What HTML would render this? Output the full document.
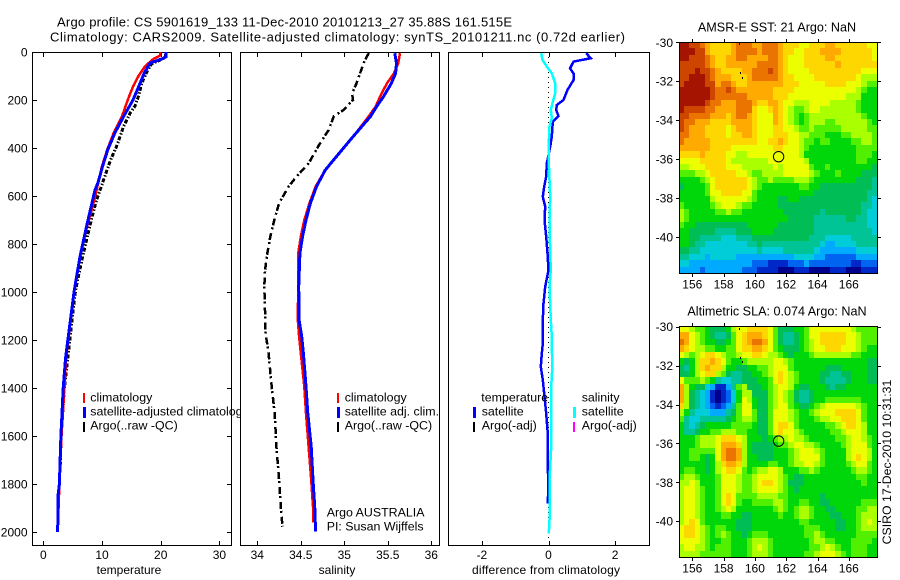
<!DOCTYPE html>
<html lang="en">
<head>
<meta charset="utf-8">
<title>Argo profile 5901619_133</title>
<style>
html,body{margin:0;padding:0;background:#fff;}
svg{display:block;}
text{font-family:"Liberation Sans",sans-serif;font-size:12px;fill:#000;}
.leg text{font-size:12.4px;}
.box{fill:#fff;stroke:#000;stroke-width:1;shape-rendering:crispEdges;}
.frame{fill:none;stroke:#000;stroke-width:1;shape-rendering:crispEdges;}
.sw{shape-rendering:crispEdges;}
</style>
</head>
<body>
<svg id="chart" xmlns="http://www.w3.org/2000/svg" width="900" height="580" viewBox="0 0 900 580">
  <rect x="0" y="0" width="900" height="580" fill="#fff"/>
  <text x="57" y="26.5" style="font-size:13px" textLength="455" lengthAdjust="spacing">Argo profile: CS 5901619_133 11-Dec-2010 20101213_27 35.88S 161.515E</text>
  <text x="50" y="41.5" style="font-size:13px" textLength="575" lengthAdjust="spacing">Climatology: CARS2009. Satellite-adjusted climatology: synTS_20101211.nc (0.72d earlier)</text>

  <g id="panel-t"></g>
  <g id="panel-s"></g>
  <g id="panel-d"></g>
  <g id="map-a"></g>
  <g id="map-b"></g>

  <g class="leg">
    <rect class="sw" x="83" y="393" width="2" height="10" fill="#f00"/>
    <text x="90.3" y="401.7">climatology</text>
    <rect class="sw" x="83" y="407" width="3" height="11" fill="#00f"/>
    <text x="90.3" y="415.7">satellite-adjusted climatology</text>
    <rect class="sw" x="83" y="422" width="2" height="10" fill="#000"/>
    <text x="90.3" y="429.3">Argo(..raw -QC)</text>
  </g>
  <rect x="240" y="404" width="24" height="16" fill="#fff"/>
  <line x1="240.5" y1="400" x2="240.5" y2="424" stroke="#000" shape-rendering="crispEdges"/>

  <g class="leg">
    <rect class="sw" x="337" y="393" width="2" height="10" fill="#f00"/>
    <text x="344.7" y="401.7">climatology</text>
    <rect class="sw" x="337" y="407" width="3" height="11" fill="#00f"/>
    <text x="344.7" y="415.7">satellite adj. clim.</text>
    <rect class="sw" x="337" y="422" width="2" height="10" fill="#000"/>
    <text x="344.7" y="429.3">Argo(..raw -QC)</text>
    <text x="326.7" y="516.7">Argo AUSTRALIA</text>
    <text x="326.7" y="530.7">PI: Susan Wijffels</text>
  </g>

  <g class="leg">
    <text x="481.3" y="401.7">temperature</text>
    <rect class="sw" x="473" y="407" width="3" height="11" fill="#00f"/>
    <text x="481.7" y="415.7">satellite</text>
    <rect class="sw" x="473" y="422" width="2" height="10" fill="#000"/>
    <text x="481.7" y="429.3">Argo(-adj)</text>
    <text x="581.7" y="401.7">salinity</text>
    <rect class="sw" x="573" y="407" width="3" height="11" fill="#0ff"/>
    <text x="581.7" y="415.7">satellite</text>
    <rect class="sw" x="573" y="422" width="2" height="10" fill="#f0f"/>
    <text x="581.7" y="429.3">Argo(-adj)</text>
  </g>

  <text x="129" y="574" text-anchor="middle">temperature</text>
  <text x="337" y="574" text-anchor="middle">salinity</text>
  <text x="546" y="574" text-anchor="middle" textLength="148" lengthAdjust="spacing">difference from climatology</text>
  <text x="777" y="31.5" text-anchor="middle" style="font-size:12.6px">AMSR-E SST: 21 Argo: NaN</text>
  <text x="777" y="315.5" text-anchor="middle" style="font-size:12.6px">Altimetric SLA: 0.074 Argo: NaN</text>
  <text transform="translate(891,462) rotate(-90)" text-anchor="middle" style="font-size:12.3px">CSIRO 17-Dec-2010 10:31:31</text>
</svg>

<script>
/* ---------- profile data ---------- */
const depthTicks = [0, 200, 400, 600, 800, 1000, 1200, 1400, 1600, 1800, 2000];
const tempTicks = [0, 10, 20, 30];
const salTicks = [34, 34.5, 35, 35.5, 36];
const diffTicks = [-2, 0, 2];
const lonTicks = [156, 158, 160, 162, 164, 166];
const latTicks = [-30, -32, -34, -36, -38, -40];

const tempArgoDepth = [5, 25, 50, 90, 129, 185, 226, 254, 309, 392, 448, 503, 559, 615, 692, 853, 992, 1076, 1256, 1400, 1600, 1750];
const tempArgoValue = [20.9, 20.7, 18.4, 17.5, 16.8, 16.2, 15.6, 14.8, 13.7, 12.5, 11.5, 10.7, 9.9, 9.1, 8.24, 6.7, 5.5, 5.1, 4.26, 3.6, 3.05, 2.85];
const tempClimDepth = [0, 15, 30, 60, 101, 143, 199, 268, 337, 406, 476, 615, 713, 853, 992, 1131, 1270, 1400, 1600, 1800, 1960];
const tempClimValue = [19.9, 19.9, 18.7, 17.3, 16.2, 15.3, 14.4, 13.4, 12.0, 10.9, 10.0, 8.7, 7.6, 6.2, 5.3, 4.6, 3.9, 3.6, 3.1, 2.75, 2.5];
const tempSatDepth = [0, 20, 27, 46, 87, 129, 199, 268, 337, 406, 476, 546, 575, 713, 853, 992, 1131, 1270, 1394, 1600, 1800, 1850, 2000];
const tempSatValue = [20.9, 20.9, 20.4, 18.2, 17.2, 16.5, 15.3, 13.7, 12.2, 11.0, 10.1, 9.3, 8.8, 7.5, 6.25, 5.28, 4.55, 3.82, 3.4, 3.0, 2.75, 2.5, 2.45];

const salArgoDepth = [5, 40, 89, 131, 172, 200, 242, 267, 325, 387, 464, 519, 561, 630, 700, 769, 839, 908, 978, 1089, 1158, 1256, 1394, 1506, 1644, 1783, 1894, 1978];
const salArgoValue = [35.28, 35.23, 35.18, 35.14, 35.09, 35.10, 34.99, 34.88, 34.82, 34.71, 34.59, 34.45, 34.36, 34.25, 34.195, 34.15, 34.115, 34.09, 34.08, 34.09, 34.09, 34.13, 34.165, 34.20, 34.22, 34.25, 34.27, 34.29];
const salClimDepth = [5, 47, 89, 131, 186, 228, 283, 353, 422, 492, 561, 630, 700, 769, 839, 978, 1117, 1186, 1256, 1394, 1506, 1644, 1783, 1894, 1960];
const salClimValue = [35.64, 35.62, 35.57, 35.49, 35.41, 35.36, 35.25, 35.10, 34.94, 34.78, 34.67, 34.60, 34.54, 34.50, 34.47, 34.47, 34.465, 34.48, 34.50, 34.54, 34.56, 34.59, 34.62, 34.64, 34.645];
const salSatDepth = [5, 47, 89, 131, 186, 228, 269, 353, 422, 492, 561, 630, 700, 769, 839, 978, 1117, 1186, 1256, 1394, 1506, 1644, 1783, 1894, 1998];
const salSatValue = [35.58, 35.60, 35.59, 35.54, 35.45, 35.37, 35.30, 35.10, 34.94, 34.78, 34.68, 34.61, 34.56, 34.52, 34.49, 34.476, 34.48, 34.51, 34.53, 34.56, 34.58, 34.62, 34.64, 34.66, 34.67];

const diffTempDepth = [5, 26, 40, 68, 89, 117, 158, 200, 221, 242, 267, 290, 353, 394, 464, 519, 561, 603, 644, 700, 769, 839, 908, 978, 1047, 1117, 1214, 1256, 1311, 1367, 1436, 1506, 1575, 1645, 1728, 1783, 1881];
const diffTempValue = [1.13, 1.27, 0.75, 0.65, 0.75, 0.75, 0.57, 0.45, 0.25, 0.23, 0.3, 0.13, 0.1, 0.05, -0.05, -0.07, -0.13, -0.17, -0.1, -0.12, -0.07, -0.03, 0, -0.1, -0.15, -0.17, -0.17, -0.2, -0.23, -0.17, -0.12, -0.07, -0.03, -0.03, -0.03, 0, -0.02];
const diffSalDepth = [5, 33, 61, 89, 131, 172, 207, 242, 276, 311, 380, 464, 533, 603, 700, 839, 908, 978, 1117, 1186, 1325, 1394, 1506, 1645, 1728, 1783, 1950, 2006];
const diffSalValue = [-0.22, -0.18, -0.05, 0.1, 0.2, 0.2, 0.13, 0.07, 0.1, 0.03, 0.01, 0.01, 0.03, 0.05, 0.03, 0.05, 0.07, 0.03, 0.07, 0.1, 0.11, 0.08, 0.08, 0.08, 0.05, 0.03, 0.03, 0.01];
const zeroLineDepth = [0, 2030];
const zeroLineValue = [0, 0];

/* ---------- map data (colour level per 1/3-degree cell, north to south) ---------- */
const sstLevels = [
[15,15,14,14,13,12,11,11,11,11,12,13,13,13,12,12,13,13,13,12,11,11,11,10,10,11,11,11,12,12,11,11,11,11,11,11,10,10],
[15,15,15,14,14,12,11,11,11,11,12,13,13,13,13,12,13,13,13,12,11,11,10,10,11,11,11,12,12,12,12,11,11,11,11,11,11,10],
[15,15,14,14,14,13,12,11,11,12,12,13,13,12,12,12,12,13,13,12,11,10,10,10,11,11,11,11,12,12,11,11,11,11,11,11,11,10],
[14,14,14,14,14,13,12,11,11,12,12,12,12,12,12,13,13,13,13,12,11,10,10,10,11,11,11,11,11,11,12,11,11,11,11,11,11,11],
[14,14,14,15,14,14,13,12,11,11,11,11,12,12,13,13,13,14,13,12,11,10,10,10,10,11,11,11,11,11,11,11,11,11,11,10,10,10],
[14,14,15,15,15,14,13,12,12,12,11,11,11,12,13,13,13,13,13,12,11,11,10,10,10,10,11,11,11,11,11,11,11,11,10,9,9,9],
[14,15,15,15,15,14,14,12,13,13,12,11,11,12,12,12,12,12,12,12,11,11,11,10,10,10,10,10,11,11,11,11,10,10,10,9,8,8],
[15,15,15,15,15,15,14,13,13,14,13,12,12,12,12,12,12,12,11,11,11,11,10,10,10,10,10,10,10,10,10,10,10,10,9,8,7,7],
[15,15,15,15,15,15,14,13,13,13,13,13,13,12,12,12,12,12,11,11,11,10,10,10,10,10,10,10,10,10,10,10,9,9,9,7,7,7],
[15,15,15,15,15,14,13,13,12,12,12,13,13,13,12,11,11,12,12,11,10,10,9,9,9,10,10,10,10,9,9,9,9,9,8,7,7,7],
[15,14,14,14,14,13,13,12,12,12,12,13,13,13,11,10,10,11,12,11,10,9,8,8,9,10,10,9,9,9,9,9,9,9,8,7,7,7],
[14,14,13,13,13,13,12,12,12,11,12,13,13,12,11,10,10,10,12,11,10,9,8,7,8,9,9,9,9,9,9,9,9,9,9,8,7,7],
[14,13,13,12,12,12,11,11,11,11,12,12,12,12,11,10,10,10,12,11,10,9,8,7,8,9,9,9,8,8,9,9,9,9,9,9,8,7],
[14,13,12,12,12,11,11,11,11,10,11,12,12,12,11,10,10,10,11,11,10,10,9,8,8,9,8,8,8,8,8,9,9,9,9,9,8,8],
[13,13,12,12,12,11,11,11,11,10,11,11,12,12,11,10,10,10,11,11,11,10,10,9,9,8,8,8,7,7,7,8,8,9,9,9,9,8],
[13,12,12,12,12,12,11,11,11,11,11,11,11,11,11,10,10,11,11,12,11,10,10,9,8,8,7,8,8,7,7,7,7,8,8,9,9,8],
[12,12,12,12,12,12,11,11,11,11,10,10,10,10,10,10,10,10,11,11,10,10,10,9,8,7,7,7,7,7,7,7,7,7,8,8,8,8],
[11,11,11,11,12,11,11,11,11,10,10,9,9,10,10,10,10,10,10,10,10,10,10,9,7,7,7,7,7,7,7,7,7,7,8,8,8,7],
[10,10,10,10,11,11,11,11,11,10,9,9,9,9,9,9,9,10,10,10,10,10,10,10,9,7,7,7,7,7,7,7,7,7,8,8,7,7],
[9,9,10,10,10,11,11,11,11,10,10,10,9,9,9,9,9,9,10,9,10,10,10,10,10,8,7,7,8,7,7,7,7,7,7,7,7,6],
[8,8,8,9,9,10,11,11,11,11,11,10,10,9,8,8,9,9,9,9,10,10,10,10,10,9,8,7,7,7,8,7,7,7,7,6,6,6],
[7,7,7,7,8,9,10,11,11,11,11,11,11,10,9,8,8,9,8,8,8,8,9,9,9,8,7,7,7,7,7,7,7,7,6,6,6,5],
[6,7,7,7,7,8,10,11,11,11,11,11,11,10,9,8,7,7,7,7,7,7,7,8,8,7,7,6,6,6,6,6,6,6,6,6,6,5],
[7,7,7,7,7,8,10,10,11,11,11,11,10,10,8,7,7,7,7,7,7,7,7,7,7,7,6,6,6,6,6,6,6,6,6,6,5,5],
[7,7,7,7,7,7,9,10,10,10,10,10,10,9,8,7,7,7,7,6,6,7,7,6,6,6,6,6,6,6,6,6,6,6,6,6,5,4],
[8,7,7,7,7,7,8,9,10,10,10,9,8,8,7,7,7,7,7,6,6,6,6,6,6,6,6,6,6,6,6,6,6,6,6,5,5,4],
[9,8,7,7,7,7,7,8,8,9,8,8,7,7,7,7,7,7,7,7,6,6,6,6,6,6,6,5,6,6,6,6,6,6,6,5,4,4],
[9,8,7,7,7,7,7,7,7,7,7,7,7,7,7,7,7,7,7,7,7,6,6,6,6,6,5,5,5,5,5,5,6,6,5,5,4,4],
[8,7,7,6,6,6,6,6,6,6,6,6,6,7,7,7,7,7,7,6,6,6,6,6,6,6,5,5,5,5,5,5,5,5,5,5,4,4],
[7,7,6,6,6,6,6,5,5,5,5,6,6,6,7,7,7,7,6,6,6,6,6,6,6,6,5,5,5,5,5,5,5,5,5,5,5,4],
[7,7,6,6,5,5,5,5,4,4,4,5,5,5,6,6,6,6,6,6,6,6,6,6,6,5,5,5,4,4,4,4,4,5,5,5,5,5],
[7,7,6,5,5,4,4,4,4,4,4,4,4,5,5,6,5,5,5,5,5,5,5,5,5,5,5,4,3,3,4,4,4,4,5,5,5,5],
[6,6,5,5,4,4,4,4,4,4,4,4,4,4,4,5,4,4,4,4,5,5,5,5,5,5,4,3,3,3,3,3,3,3,4,4,4,4],
[5,5,4,4,4,3,4,4,4,4,4,3,3,3,3,3,3,3,3,3,3,3,4,4,4,4,3,3,2,2,2,2,2,2,3,3,3,3],
[4,4,3,3,3,3,3,3,3,3,3,3,3,3,2,2,2,1,1,1,1,2,2,2,3,2,2,2,2,2,2,2,2,1,1,2,2,2],
[3,3,3,3,2,3,3,3,3,3,3,3,2,2,2,1,1,1,1,0,0,0,1,1,1,0,0,0,0,1,1,1,0,0,0,1,1,1]
];
const slaLevels = [
[10,10,9,8,8,7,6,6,6,7,9,10,10,11,11,11,11,10,8,6,6,6,7,7,8,10,10,10,10,10,10,10,10,9,8,8,8,8],
[12,12,10,9,8,7,6,5,5,6,8,10,11,12,12,12,11,10,8,6,5,5,6,7,8,10,10,11,11,11,11,11,10,10,9,8,8,8],
[13,12,10,9,8,7,7,6,6,7,8,10,11,12,13,13,12,10,8,6,5,5,6,7,8,9,10,11,11,11,11,11,10,10,9,8,8,8],
[12,11,10,9,9,8,8,7,7,8,8,10,11,11,12,12,11,10,8,7,6,6,6,7,8,9,10,10,11,11,11,10,10,10,9,8,7,7],
[10,9,8,9,10,11,11,10,9,8,8,9,10,10,11,11,10,9,9,8,7,6,7,7,7,8,9,9,9,9,9,9,9,8,8,7,7,7],
[7,6,7,9,11,11,12,11,10,8,7,7,8,9,9,9,9,9,10,10,9,8,7,7,7,7,7,7,7,7,7,7,7,7,7,7,6,6],
[6,5,7,9,11,12,11,11,9,7,7,6,6,7,7,8,8,9,10,10,10,8,7,7,7,7,7,7,6,6,6,7,7,7,7,7,6,6],
[6,6,7,9,10,11,11,9,8,6,5,5,6,6,7,7,8,9,10,11,10,9,8,7,7,7,7,6,6,5,5,6,6,7,7,7,6,6],
[10,8,8,8,9,8,7,5,4,4,5,5,6,6,6,7,7,8,10,11,10,9,8,7,7,7,7,6,5,5,5,5,6,7,7,7,6,6],
[12,9,7,6,6,4,3,1,1,3,5,8,9,6,6,6,7,8,9,10,10,9,7,6,6,7,7,7,6,5,6,6,7,7,7,7,7,7],
[12,9,6,5,4,3,1,0,1,2,4,7,9,9,6,6,6,8,9,10,9,8,6,5,5,6,7,7,7,7,7,7,7,7,7,7,7,7],
[12,9,6,5,4,3,1,0,1,2,4,7,10,9,7,6,6,8,9,10,9,8,6,5,5,6,7,7,8,8,8,8,8,8,8,7,7,7],
[11,9,6,5,4,3,2,1,2,3,5,8,10,10,7,6,6,8,9,10,10,8,7,6,6,7,8,9,10,10,10,10,10,10,9,8,7,7],
[9,7,5,4,4,4,3,3,3,5,6,8,10,10,8,6,6,8,10,10,10,9,8,7,7,8,9,10,10,10,11,11,11,11,10,8,7,7],
[8,5,4,4,5,5,5,5,5,6,7,8,9,9,8,6,6,8,10,10,10,9,8,7,7,7,8,9,9,10,10,11,11,11,10,8,7,7],
[7,5,4,5,6,7,7,7,7,7,8,8,8,8,7,6,6,8,10,11,11,10,8,7,7,7,7,7,8,8,9,10,11,11,10,9,7,7],
[7,5,5,6,7,7,8,8,9,9,9,8,8,7,7,6,6,8,10,11,10,10,9,8,7,7,7,7,7,8,8,9,10,10,10,9,7,7],
[7,7,7,8,9,9,9,10,11,11,11,10,9,7,7,7,6,7,8,9,9,10,9,9,8,7,7,7,7,7,8,8,9,10,10,9,8,7],
[7,7,7,8,9,9,9,10,12,12,12,11,9,7,6,6,6,6,7,8,8,9,10,10,9,9,8,7,7,7,7,8,9,10,10,10,8,7],
[7,7,8,8,8,8,8,10,12,13,13,12,9,7,6,6,6,6,7,7,7,8,9,10,10,10,9,8,7,7,7,7,9,10,10,10,9,7],
[7,7,8,8,7,6,7,10,12,13,13,12,9,7,7,6,6,6,7,7,7,8,9,10,10,10,10,8,7,7,7,7,9,10,11,10,9,7],
[7,7,7,7,7,6,7,9,11,12,12,11,9,7,7,7,7,8,8,7,7,8,9,9,10,10,9,8,7,7,7,7,8,9,10,10,8,7],
[7,8,8,7,7,6,7,9,10,11,11,10,8,7,8,9,9,10,10,9,7,7,7,8,8,9,8,7,7,7,7,7,7,8,9,9,8,7],
[8,9,9,8,7,7,7,8,10,10,10,9,8,8,9,10,10,10,10,9,8,7,6,6,7,7,7,7,7,7,7,7,7,7,8,8,7,7],
[9,9,10,9,7,7,7,8,10,10,10,9,8,8,9,10,11,11,10,9,8,6,6,6,7,7,7,7,7,7,7,7,7,7,7,8,7,7],
[9,10,10,9,8,7,7,8,10,10,10,9,8,8,9,10,10,10,10,9,8,7,6,7,7,7,7,7,7,7,7,7,7,7,7,7,7,7],
[9,10,10,9,8,7,7,8,10,11,10,8,8,8,8,9,9,9,9,8,8,7,7,7,7,7,7,6,7,7,7,7,7,7,7,7,7,7],
[9,10,10,9,8,7,7,8,10,11,10,8,7,7,8,8,8,8,9,9,8,7,7,8,8,7,7,6,6,7,7,7,7,7,7,8,8,8],
[9,10,10,9,8,7,7,8,9,10,9,7,7,7,7,7,7,7,8,9,8,7,8,9,9,8,7,7,6,6,7,7,7,7,8,8,9,9],
[9,10,10,9,8,7,7,7,8,8,7,7,6,6,7,7,7,7,7,8,7,7,8,9,9,8,7,7,7,6,6,7,7,7,8,9,9,9],
[9,10,11,10,8,7,7,7,7,7,7,6,6,6,7,7,7,7,7,7,7,7,7,8,8,7,7,7,7,7,6,6,7,7,8,9,10,9],
[10,11,11,10,9,8,7,8,8,7,7,6,6,6,7,7,7,7,7,7,7,7,7,7,8,8,8,7,7,7,6,6,7,7,8,9,9,9],
[10,11,11,10,9,8,7,8,9,8,7,7,6,7,8,8,8,7,7,7,7,7,7,7,8,8,9,8,7,7,7,7,7,7,8,8,8,8],
[10,10,10,10,9,8,7,7,8,8,7,7,7,8,9,9,9,8,7,7,7,7,7,7,7,8,9,9,8,8,7,7,7,8,8,8,8,7],
[9,10,10,9,9,8,7,8,8,8,7,7,7,8,9,10,9,8,7,7,7,7,7,7,7,8,8,9,10,9,8,7,7,8,8,8,7,7],
[9,9,9,9,8,8,8,8,8,8,7,7,7,8,9,9,9,8,7,7,7,7,7,7,8,8,9,10,10,10,9,8,7,8,8,8,7,7]
];
const floatLon = [161.515];
const floatLat = [-35.88];
const coastLon = [159.0, 159.05, 159.2];
const coastLat = [-30.05, -31.55, -31.78];

/* ---------- colour ramp for map levels ---------- */
const levelColours = ['rgb(0,0,140)','rgb(0,40,200)','rgb(0,100,240)','rgb(0,170,255)','rgb(0,205,215)','rgb(0,195,150)','rgb(0,190,85)','rgb(0,215,10)','rgb(80,240,0)','rgb(170,255,0)','rgb(235,255,0)','rgb(255,215,0)','rgb(255,170,0)','rgb(235,115,0)','rgb(205,70,0)','rgb(165,20,0)'];

/* ---------- axis functions ---------- */
const NS = 'http://www.w3.org/2000/svg';
function yDepth(d) { return 52 + d * 0.24; }
function xTemp(v) { return 43.3 + v * 5.87; }
function xSal(v) { return 257.3 + (v - 34) * 87; }
function xDiff(v) { return 548.5 + v * 33.3; }
function xLon(v) { return 692.3 + (v - 156) * 15.65; }
function yLat(v, top) { return top + (-30 - v) * 19.45; }

function svgEl(tag, parent) {
  const el = document.createElementNS(NS, tag);
  parent.appendChild(el);
  return el;
}
function tickLine(parent, x1, y1, x2, y2) {
  const el = svgEl('line', parent);
  el.setAttribute('x1', x1);
  el.setAttribute('y1', y1);
  el.setAttribute('x2', x2);
  el.setAttribute('y2', y2);
  el.setAttribute('stroke', '#000');
  el.setAttribute('shape-rendering', 'crispEdges');
  
  
}
function tickText(parent, x, y, anchor, label) {
  const el = svgEl('text', parent);
  el.setAttribute('x', x);
  el.setAttribute('y', y);
  el.setAttribute('text-anchor', anchor);
  el.textContent = label;
  
  
}
function profile(parent, depths, values, xFn, colour, width, dash, name) {
  const el = svgEl('polyline', parent);
  el.setAttribute('points', depths.map(function (d, i) { return xFn(values[i]).toFixed(1) + ',' + yDepth(d).toFixed(1); }).join(' '));
  el.setAttribute('fill', 'none');
  el.setAttribute('stroke', colour);
  el.setAttribute('stroke-width', width);
  el.setAttribute('shape-rendering', 'crispEdges');
  if (dash) el.setAttribute('stroke-dasharray', dash);
  
  
}
function panelBox(parent, x0, x1) {
  const el = svgEl('rect', parent);
  el.setAttribute('class', 'box');
  el.setAttribute('x', x0 + 0.5);
  el.setAttribute('y', 52.5);
  el.setAttribute('width', x1 - x0);
  el.setAttribute('height', 493);
  
  
}
function xAxis(parent, ticks, xFn) {
  ticks.forEach(function (t) {
    const x = Math.round(xFn(t)) + 0.5;
    tickLine(parent, x, 52, x, 57);
    tickLine(parent, x, 541, x, 546);
    tickText(parent, xFn(t), 559, 'middle', String(t));
  });
}

/* ---------- temperature panel ---------- */
const pT = document.getElementById('panel-t');
panelBox(pT, 32, 231);
xAxis(pT, tempTicks, xTemp);
depthTicks.forEach(function (d) {
  const y = Math.round(yDepth(d)) + 0.5;
  tickLine(pT, 32, y, 37, y);
  tickLine(pT, 227, y, 232, y);
  tickText(pT, 27.5, yDepth(d) + 4.5, 'end', String(d));
});
profile(pT, tempArgoDepth, tempArgoValue, xTemp, '#000', 3, '4 1.5 1.5 2', 'temperature-argo-line');
profile(pT, tempClimDepth, tempClimValue, xTemp, '#f00', 2.5, null, 'temperature-climatology-line');
profile(pT, tempSatDepth, tempSatValue, xTemp, '#00f', 3, null, 'temperature-satellite-line');

/* ---------- salinity panel ---------- */
const pS = document.getElementById('panel-s');
panelBox(pS, 240, 439);
xAxis(pS, salTicks, xSal);
profile(pS, salArgoDepth, salArgoValue, xSal, '#000', 2.5, '7 2 2 4', 'salinity-argo-line');
profile(pS, salClimDepth, salClimValue, xSal, '#f00', 2.5, null, 'salinity-climatology-line');
profile(pS, salSatDepth, salSatValue, xSal, '#00f', 3, null, 'salinity-satellite-line');

/* ---------- difference panel ---------- */
const pD = document.getElementById('panel-d');
panelBox(pD, 448, 649);
xAxis(pD, diffTicks, xDiff);
profile(pD, zeroLineDepth, zeroLineValue, xDiff, '#000', 1, '1 4', 'zero-reference-line');
profile(pD, diffTempDepth, diffTempValue, xDiff, '#00f', 2.5, null, 'difference-temperature-line');
profile(pD, diffSalDepth, diffSalValue, xDiff, '#0ff', 2.5, null, 'difference-salinity-line');

/* ---------- maps ---------- */
function drawMap(parent, levels, top) {
  const left = 679, right = 877, mapTop = Math.round(top - 0.6), bottom = mapTop + 231;
  levels.forEach(function (row, r) {
    row.forEach(function (level, c) {
      const x0 = Math.round(left + c * (right - left) / row.length);
      const x1 = Math.round(left + (c + 1) * (right - left) / row.length);
      const y0 = Math.round(mapTop + r * (bottom - mapTop) / levels.length);
      const y1 = Math.round(mapTop + (r + 1) * (bottom - mapTop) / levels.length);
      const cell = svgEl('rect', parent);
      cell.setAttribute('x', x0);
      cell.setAttribute('y', y0);
      cell.setAttribute('width', x1 - x0);
      cell.setAttribute('height', y1 - y0);
      cell.setAttribute('fill', levelColours[Math.max(0, Math.min(15, Math.round(level)))]);
      cell.setAttribute('shape-rendering', 'crispEdges');
      
      
    });
  });
  const frame = svgEl('rect', parent);
  frame.setAttribute('class', 'frame');
  frame.setAttribute('x', left + 0.5);
  frame.setAttribute('y', mapTop + 0.5);
  frame.setAttribute('width', right - left);
  frame.setAttribute('height', bottom - mapTop);
  
  
  lonTicks.forEach(function (t) {
    const x = Math.round(xLon(t)) + 0.5;
    tickLine(parent, x, mapTop - 3, x, mapTop);
    tickLine(parent, x, bottom, x, bottom + 4);
    tickText(parent, xLon(t), bottom + 15.5, 'middle', String(t));
  });
  latTicks.forEach(function (t) {
    const y = Math.round(yLat(t, top)) + 0.5;
    tickLine(parent, left - 3, y, left, y);
    tickLine(parent, right, y, right + 4, y);
    tickText(parent, 673, yLat(t, top) + 4.5, 'end', String(t));
  });
  coastLon.forEach(function (lon, i) {
    const dot = svgEl('rect', parent);
    dot.setAttribute('x', Math.round(xLon(lon)));
    dot.setAttribute('y', Math.round(yLat(coastLat[i], top)));
    dot.setAttribute('width', 1);
    dot.setAttribute('height', 2);
    dot.setAttribute('fill', '#000');
    dot.setAttribute('shape-rendering', 'crispEdges');
    
    
  });
  floatLon.forEach(function (lon, i) {
    const marker = svgEl('circle', parent);
    marker.setAttribute('cx', xLon(lon));
    marker.setAttribute('cy', yLat(floatLat[i], top));
    marker.setAttribute('r', 5.2);
    marker.setAttribute('fill', 'none');
    marker.setAttribute('stroke', '#000');
    
    
  });
}
drawMap(document.getElementById('map-a'), sstLevels, 42.3);
drawMap(document.getElementById('map-b'), slaLevels, 326.7);
</script>
</body>
</html>
